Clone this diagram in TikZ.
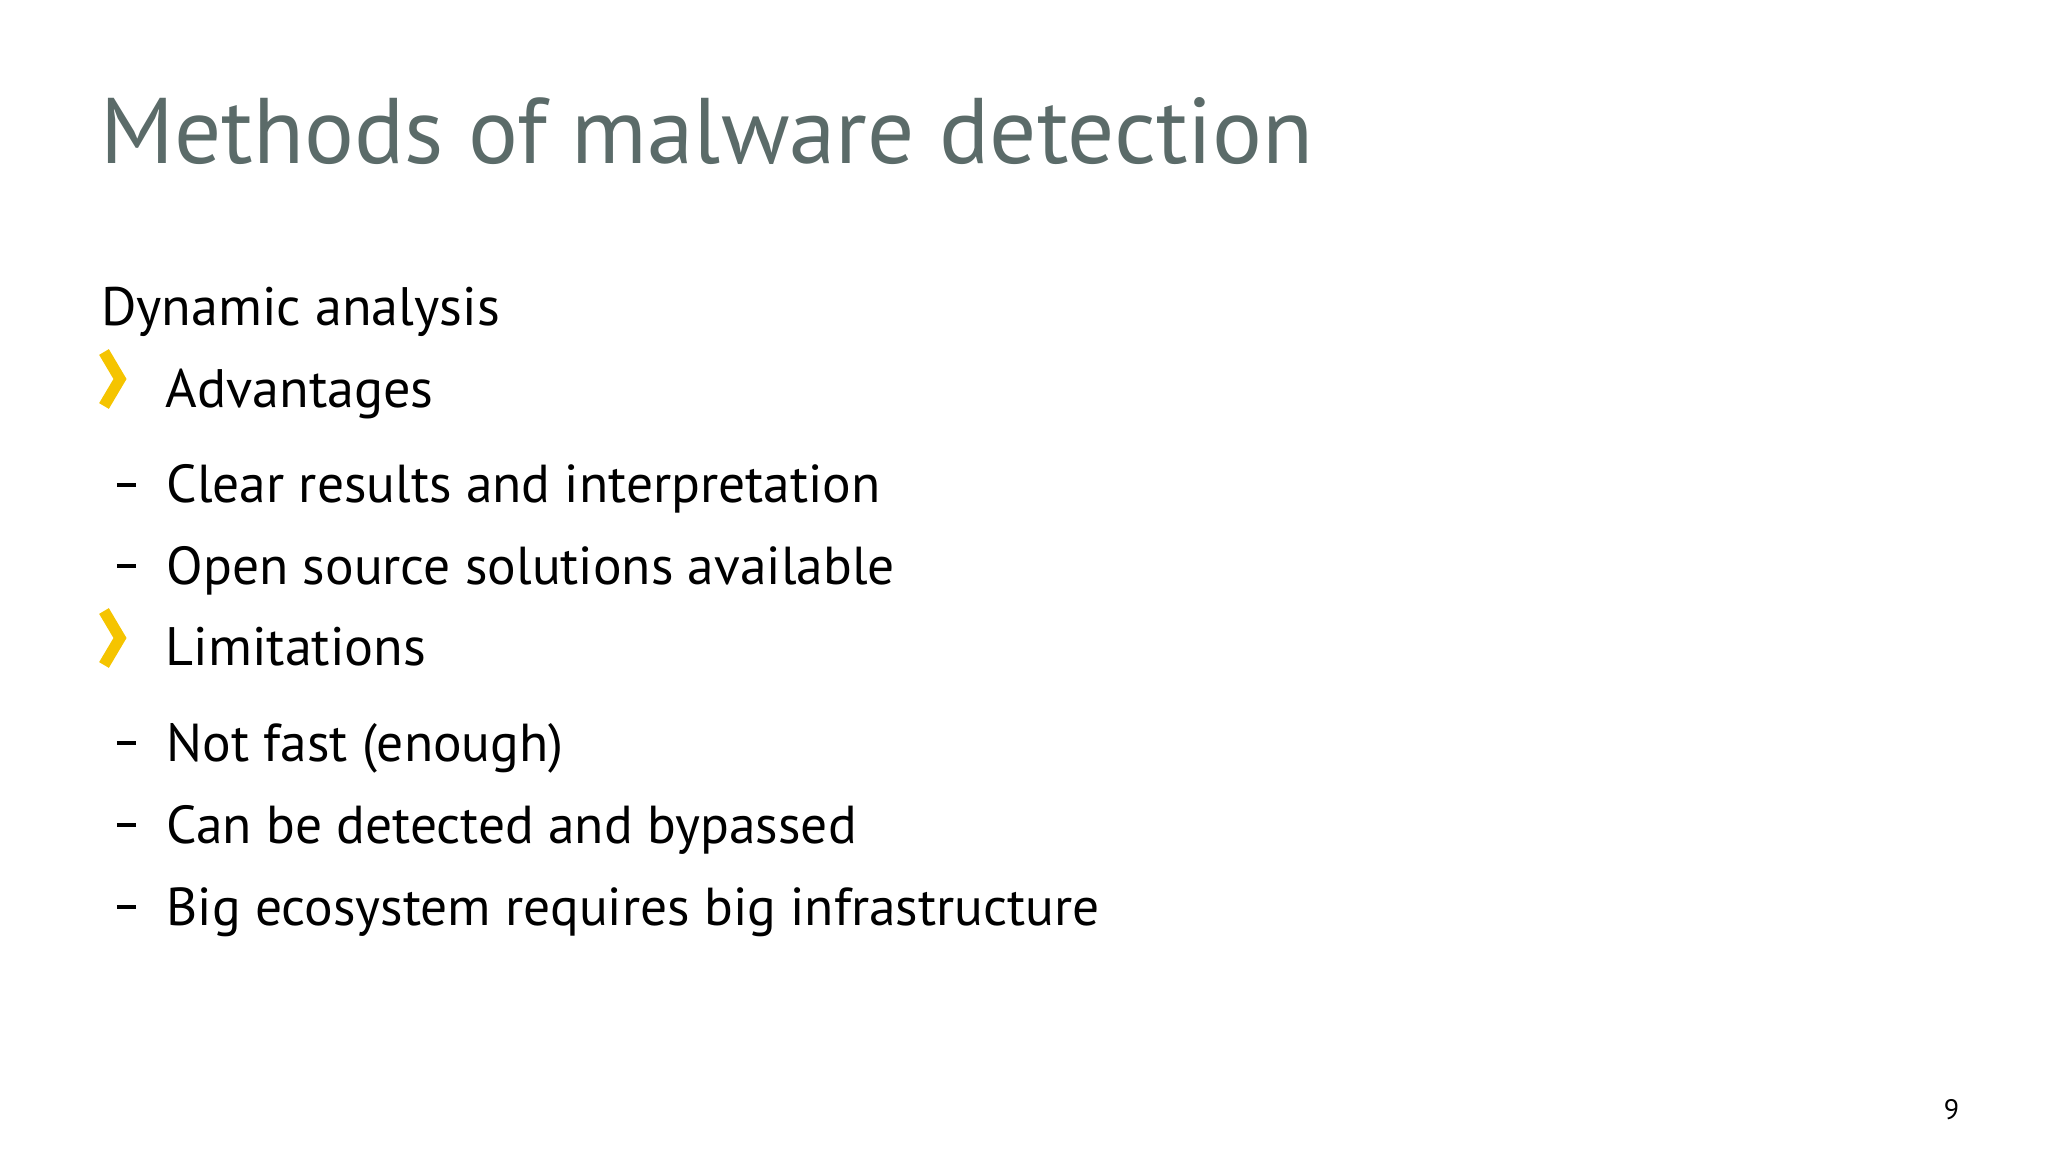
\documentclass[tikz,border=0pt]{standalone}
\usepackage{fontspec}
\setmainfont{PT Sans}
\definecolor{titlegray}{HTML}{5B6B69}
\definecolor{chev}{HTML}{F5C400}
\begin{document}
\begin{tikzpicture}[x=0.01cm,y=-0.01cm,
  title/.style={anchor=base west,inner sep=0,font=\fontsize{26.5}{30}\selectfont,text=titlegray},
  head/.style={anchor=base west,inner sep=0,font=\fontsize{15.4}{18}\selectfont},
  item/.style={anchor=base west,inner sep=0,font=\fontsize{15.2}{18}\selectfont},
  chevr/.style={draw=chev,line width=3.2pt,line join=miter,line cap=butt},
  dashmark/.style={draw=black,line width=1pt}]
\useasboundingbox (0,0) rectangle (2048,1152);
\node[title] (t) at (100,164) {Methods of malware detection};
\node[head] (d) at (101,326) {Dynamic analysis};
\node[head] (a) at (165,408) {Advantages};
\draw[chevr] (104,352) -- (120,379) -- (104,406);
\node[item] (i1) at (166,503) {Clear results and interpretation};
\node[item] (i2) at (166,584) {Open source solutions available};
\node[head] (l) at (165,666) {Limitations};
\draw[chevr] (104,611) -- (120,638) -- (104,665);
\node[item] (i3) at (166,761) {Not fast (enough)};
\node[item] (i4) at (166,843) {Can be detected and bypassed};
\node[item] (i5) at (166,925) {Big ecosystem requires big infrastructure};
\foreach \n in {i1,i2,i3,i4,i5}
  \draw[dashmark] ([xshift=-0.49cm,yshift=0.18cm]\n.base west) -- ++(19,0);
\node[anchor=base east,inner sep=0,font=\fontsize{8}{9}\selectfont] (p) at (1960,1119) {9};
\end{tikzpicture}
\end{document}
